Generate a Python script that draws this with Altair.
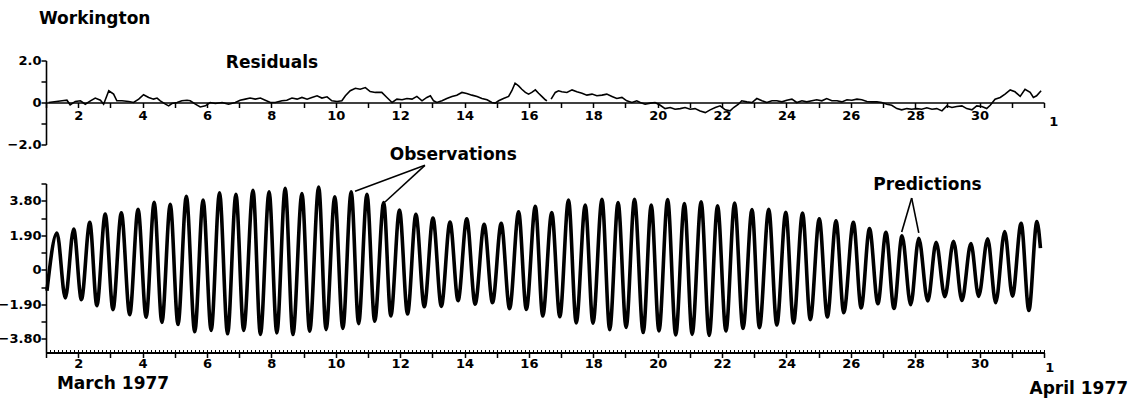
import altair as alt
import pandas as pd

FONT = "DejaVu Sans"

# ---------------- data ----------------
# Tide curve (observations / predictions overlay): high and low waters (day of March 1977, level)
tide_highs = [
    (1.34, 2.03), (1.86, 2.25), (2.36, 2.61), (2.84, 3.07), (3.34, 3.14), (3.86, 3.33),
    (4.36, 3.71), (4.86, 3.60), (5.36, 4.05), (5.88, 3.84), (6.39, 4.24), (6.90, 4.15),
    (7.43, 4.38), (7.93, 4.29), (8.43, 4.48), (8.95, 4.20), (9.47, 4.56), (9.97, 4.02),
    (10.48, 4.29), (10.97, 4.16), (11.49, 3.70), (11.98, 3.29), (12.49, 3.06), (13.02, 2.85),
    (13.55, 2.63), (14.07, 2.81), (14.61, 2.50), (15.14, 2.56), (15.68, 3.19), (16.20, 3.49),
    (16.71, 3.15), (17.23, 3.84), (17.75, 3.56), (18.27, 3.88), (18.77, 3.70), (19.28, 3.88),
    (19.80, 3.56), (20.31, 3.87), (20.83, 3.65), (21.35, 3.74), (21.86, 3.52), (22.39, 3.68),
    (22.93, 3.32), (23.45, 3.33), (23.98, 3.17), (24.50, 3.12), (25.02, 2.81), (25.54, 2.70),
    (26.08, 2.62), (26.58, 2.27), (27.09, 2.07), (27.59, 1.87), (28.11, 1.73), (28.65, 1.51),
    (29.19, 1.57), (29.73, 1.44), (30.25, 1.71), (30.78, 2.10), (31.29, 2.56), (31.78, 2.65),
]
tide_lows = [
    (1.60, -1.55), (2.10, -1.64), (2.58, -1.97), (3.08, -2.19), (3.60, -2.47), (4.11, -2.61),
    (4.60, -2.89), (5.10, -3.01), (5.62, -3.41), (6.13, -3.34), (6.64, -3.52), (7.14, -3.33),
    (7.66, -3.56), (8.17, -3.47), (8.67, -3.56), (9.19, -3.38), (9.70, -3.29), (10.22, -3.23),
    (10.71, -2.96), (11.21, -2.83), (11.71, -2.54), (12.23, -2.43), (12.75, -2.03), (13.28, -2.01),
    (13.80, -1.70), (14.33, -1.89), (14.87, -1.81), (15.40, -2.14), (15.92, -2.18), (16.43, -2.54),
    (16.96, -2.58), (17.47, -2.92), (17.99, -2.94), (18.51, -3.29), (19.02, -3.17), (19.55, -3.45),
    (20.04, -3.36), (20.56, -3.58), (21.07, -3.55), (21.60, -3.61), (22.12, -3.37), (22.65, -3.22),
    (23.16, -3.18), (23.70, -3.04), (24.22, -2.92), (24.74, -2.74), (25.27, -2.60), (25.78, -2.36),
    (26.32, -2.10), (26.84, -1.87), (27.34, -2.13), (27.86, -1.92), (28.39, -1.72), (28.92, -1.48),
    (29.45, -1.69), (29.97, -1.46), (30.50, -1.81), (31.02, -1.45), (31.53, -2.24),
]
tide_ends = [(1.03, -1.15), (31.89, 1.19)]

# Residuals (two pieces, a short gap in the record near day 16.6)
resid_part1 = [
    (1.08, 0.00), (1.50, 0.08), (1.65, 0.11), (1.75, -0.11), (1.91, 0.05), (2.07, 0.08),
    (2.22, -0.08), (2.38, 0.08), (2.53, 0.21), (2.69, 0.11), (2.79, -0.08), (2.95, 0.56),
    (3.10, 0.40), (3.20, 0.08), (3.36, 0.08), (3.57, 0.05), (3.72, 0.00), (3.88, 0.16),
    (4.03, 0.37), (4.19, 0.24), (4.34, 0.16), (4.45, 0.21), (4.55, 0.08), (4.71, -0.08),
    (4.81, -0.16), (4.91, -0.05), (5.07, 0.00), (5.22, 0.08), (5.38, 0.11), (5.48, 0.08),
    (5.64, -0.08), (5.79, -0.21), (5.95, -0.16), (6.10, 0.00), (6.26, -0.05), (6.47, 0.00),
    (6.67, -0.08), (6.88, 0.00), (7.03, 0.11), (7.19, 0.16), (7.34, 0.21), (7.50, 0.16),
    (7.66, 0.21), (7.81, 0.11), (7.97, 0.00), (8.12, 0.00), (8.33, 0.08), (8.48, 0.11),
    (8.64, 0.21), (8.80, 0.16), (8.95, 0.24), (9.11, 0.16), (9.26, 0.24), (9.42, 0.32),
    (9.57, 0.21), (9.73, 0.27), (9.88, 0.08), (10.04, 0.05), (10.19, 0.08), (10.30, 0.32),
    (10.45, 0.56), (10.61, 0.68), (10.76, 0.63), (10.92, 0.71), (11.07, 0.52), (11.23, 0.48),
    (11.43, 0.48), (11.59, 0.24), (11.75, 0.00), (11.90, 0.16), (12.06, 0.13), (12.21, 0.19),
    (12.37, 0.16), (12.52, 0.29), (12.68, 0.08), (12.83, 0.24), (12.94, 0.32), (13.04, 0.08),
    (13.14, 0.00), (13.30, 0.08), (13.45, 0.19), (13.61, 0.29), (13.76, 0.35), (13.92, 0.48),
    (14.07, 0.43), (14.23, 0.35), (14.39, 0.29), (14.54, 0.19), (14.70, 0.13), (14.85, 0.00),
    (14.95, -0.03), (15.06, 0.08), (15.21, 0.19), (15.37, 0.29), (15.47, 0.56), (15.57, 0.92),
    (15.68, 0.79), (15.78, 0.63), (15.89, 0.48), (15.99, 0.40), (16.09, 0.48), (16.20, 0.60),
    (16.30, 0.44), (16.40, 0.29), (16.51, 0.13), (16.56, 0.08),
]
resid_part2 = [
    (16.69, 0.16), (16.82, 0.48), (16.92, 0.56), (17.02, 0.51), (17.18, 0.48), (17.34, 0.60),
    (17.49, 0.51), (17.65, 0.44), (17.80, 0.35), (17.96, 0.40), (18.11, 0.32), (18.27, 0.35),
    (18.42, 0.40), (18.58, 0.29), (18.73, 0.19), (18.89, 0.24), (19.04, 0.08), (19.20, 0.00),
    (19.35, 0.08), (19.46, 0.00), (19.61, -0.08), (19.77, -0.03), (19.92, 0.00), (20.08, -0.13),
    (20.23, -0.29), (20.39, -0.24), (20.54, -0.32), (20.70, -0.29), (20.85, -0.24), (21.01, -0.32),
    (21.16, -0.29), (21.32, -0.40), (21.48, -0.48), (21.63, -0.35), (21.79, -0.24), (21.94, -0.16),
    (22.10, -0.35), (22.25, -0.40), (22.36, -0.24), (22.51, -0.08), (22.61, 0.08), (22.77, 0.03),
    (22.93, 0.00), (23.08, 0.19), (23.24, 0.08), (23.39, 0.00), (23.55, 0.08), (23.70, 0.08),
    (23.86, 0.03), (24.01, 0.11), (24.17, 0.16), (24.32, 0.00), (24.48, 0.08), (24.63, 0.03),
    (24.79, 0.08), (24.94, 0.13), (25.10, 0.08), (25.25, 0.19), (25.41, 0.08), (25.57, 0.08),
    (25.72, 0.03), (25.88, 0.13), (26.03, 0.11), (26.19, 0.16), (26.34, 0.13), (26.50, 0.05),
    (26.65, 0.03), (26.81, 0.03), (26.96, 0.00), (27.12, -0.08), (27.27, -0.13), (27.43, -0.29),
    (27.58, -0.35), (27.74, -0.29), (27.89, -0.32), (28.05, -0.29), (28.20, -0.32), (28.36, -0.25),
    (28.52, -0.32), (28.67, -0.29), (28.83, -0.40), (28.98, -0.16), (29.14, -0.24), (29.29, -0.19),
    (29.45, -0.16), (29.60, -0.29), (29.76, -0.35), (29.91, -0.16), (30.07, -0.19), (30.22, -0.29),
    (30.33, -0.13), (30.48, 0.16), (30.64, 0.24), (30.79, 0.40), (30.95, 0.60), (31.10, 0.51),
    (31.26, 0.29), (31.41, 0.63), (31.57, 0.48), (31.67, 0.24), (31.77, 0.32), (31.91, 0.56),
]

# Axis ticks and labels
day_ticks = list(range(1, 33))
minor_day_ticks = [1 + k / 8 for k in range(0, 249)]
tide_ticks = [-3.8, -2.85, -1.9, -0.95, 0, 0.95, 1.9, 2.85, 3.8, 4.75]
resid_ticks = [-2, -1, 0, 1, 2]

x_domain = [1, 32]
tide_domain = [-4.55, 4.75]
resid_domain = [-2, 2]

# Annotations (data coordinates)
top_texts_left = [("Workington", 0.78, 4.0)]
top_texts_center = [("Residuals", 8.02, 1.86)]
top_small_texts = [("1", 32.3, -0.95)]
bottom_texts_center = [("Observations", 13.65, 6.3), ("Predictions", 28.38, 4.65), ("April 1977", 33.08, -6.55)]
bottom_texts_left = [("March 1977", 1.34, -6.26)]
bottom_small_texts = [("1", 32.18, -5.39)]
arrow_segments = [
    (12.77, 5.75, 10.60, 4.33), (12.77, 5.75, 11.53, 3.73),
    (27.89, 3.95, 27.58, 2.08), (27.89, 3.95, 28.11, 2.03),
]

PLOT_W = 998
RES_H = 84
TIDE_H = 169

# ---------------- frames ----------------
tide_df = pd.DataFrame(tide_ends + tide_highs + tide_lows, columns=["day", "v"]).sort_values("day")
res_df = pd.concat([
    pd.DataFrame(resid_part1, columns=["day", "v"]).assign(seg=1),
    pd.DataFrame(resid_part2, columns=["day", "v"]).assign(seg=2),
])
arrows_df = pd.DataFrame(arrow_segments, columns=["day", "v", "day2", "v2"])

xs = alt.Scale(domain=x_domain, nice=False, zero=False)
ys_res = alt.Scale(domain=resid_domain, nice=False, zero=False)
ys_tide = alt.Scale(domain=tide_domain, nice=False, zero=False)

even_label = "datum.value % 2 == 0 && datum.value <= 30 ? datum.label : ''"

res_x_axis = alt.Axis(
    values=day_ticks, labelExpr=even_label, offset=-RES_H / 2, tickSize=5, labelPadding=2,
    domainWidth=1.6, tickWidth=1.5, title=None, labelFlush=False, labelOverlap=False)
res_y_axis = alt.Axis(
    values=resid_ticks,
    labelExpr="datum.value == 0 ? '0' : (abs(datum.value) == 2 ? format(datum.value, '.1f') : '')",
    tickSize=5, labelPadding=0, domainWidth=1.6, tickWidth=1.5, title=None, labelOverlap=False)
tide_x_axis = alt.Axis(
    values=day_ticks, labelExpr=even_label, tickSize=5, labelPadding=0, orient="bottom",
    domainWidth=2, tickWidth=1.5, title=None, labelFlush=False, labelOverlap=False)
tide_y_axis = alt.Axis(
    values=tide_ticks,
    labelExpr="datum.value == 0 ? '0' : (abs(round(datum.value * 100)) % 190 == 0 ? format(datum.value, '.2f') : '')",
    tickSize=5, labelPadding=0, domainWidth=1.6, tickWidth=1.5, title=None, labelOverlap=False)


def text_layer(rows, xaxis, yscale, yaxis, size, align):
    df = pd.DataFrame(rows, columns=["txt", "day", "v"])
    return alt.Chart(df).mark_text(
        font=FONT, fontWeight="bold", fontSize=size, align=align, baseline="middle", color="black"
    ).encode(
        x=alt.X("day:Q", scale=xs, axis=xaxis),
        y=alt.Y("v:Q", scale=yscale, axis=yaxis),
        text="txt:N",
    )


# ---------------- residual panel ----------------
res_line = alt.Chart(res_df).mark_line(color="black", strokeWidth=1.6).encode(
    x=alt.X("day:Q", scale=xs, axis=res_x_axis),
    y=alt.Y("v:Q", scale=ys_res, axis=res_y_axis),
    detail="seg:N",
)

top = alt.layer(
    res_line,
    text_layer(top_texts_left, res_x_axis, ys_res, res_y_axis, 17, "left"),
    text_layer(top_texts_center, res_x_axis, ys_res, res_y_axis, 17, "center"),
    text_layer(top_small_texts, res_x_axis, ys_res, res_y_axis, 13, "center"),
).properties(width=PLOT_W, height=RES_H)

# ---------------- tide panel ----------------
tide_line = alt.Chart(tide_df).mark_line(color="black", strokeWidth=3.6, interpolate="monotone").encode(
    x=alt.X("day:Q", scale=xs, axis=tide_x_axis),
    y=alt.Y("v:Q", scale=ys_tide, axis=tide_y_axis),
)

arrows = alt.Chart(arrows_df).mark_rule(color="black", strokeWidth=1.6).encode(
    x=alt.X("day:Q", scale=xs, axis=tide_x_axis),
    y=alt.Y("v:Q", scale=ys_tide, axis=tide_y_axis),
    x2="day2:Q",
    y2="v2:Q",
)

tide_main = alt.layer(
    tide_line,
    arrows,
    text_layer(bottom_texts_center, tide_x_axis, ys_tide, tide_y_axis, 17, "center"),
    text_layer(bottom_texts_left, tide_x_axis, ys_tide, tide_y_axis, 17, "left"),
    text_layer(bottom_small_texts, tide_x_axis, ys_tide, tide_y_axis, 13, "center"),
)

minor_axis = alt.Chart(tide_df).mark_point(opacity=0).encode(
    x=alt.X("day:Q", scale=xs, axis=alt.Axis(
        values=minor_day_ticks, labels=False, domain=False, tickSize=3, offset=-3,
        orient="bottom", tickWidth=1, title=None)),
    y=alt.Y("v:Q", scale=ys_tide, axis=tide_y_axis),
)

bottom = alt.layer(tide_main, minor_axis).resolve_axis(x="independent").properties(
    width=PLOT_W, height=TIDE_H)

chart = alt.vconcat(top, bottom, spacing=39, bounds="flush").properties(
    padding={"left": -2, "top": 9.5, "right": 0, "bottom": 0},
    background="white",
).configure_axis(
    labelFont=FONT, labelFontSize=13, labelFontWeight="bold", labelColor="black",
    domainColor="black", tickColor="black", grid=False,
).configure_view(stroke=None)

chart.save("out.html", embed_options={"renderer": "svg", "actions": False})
